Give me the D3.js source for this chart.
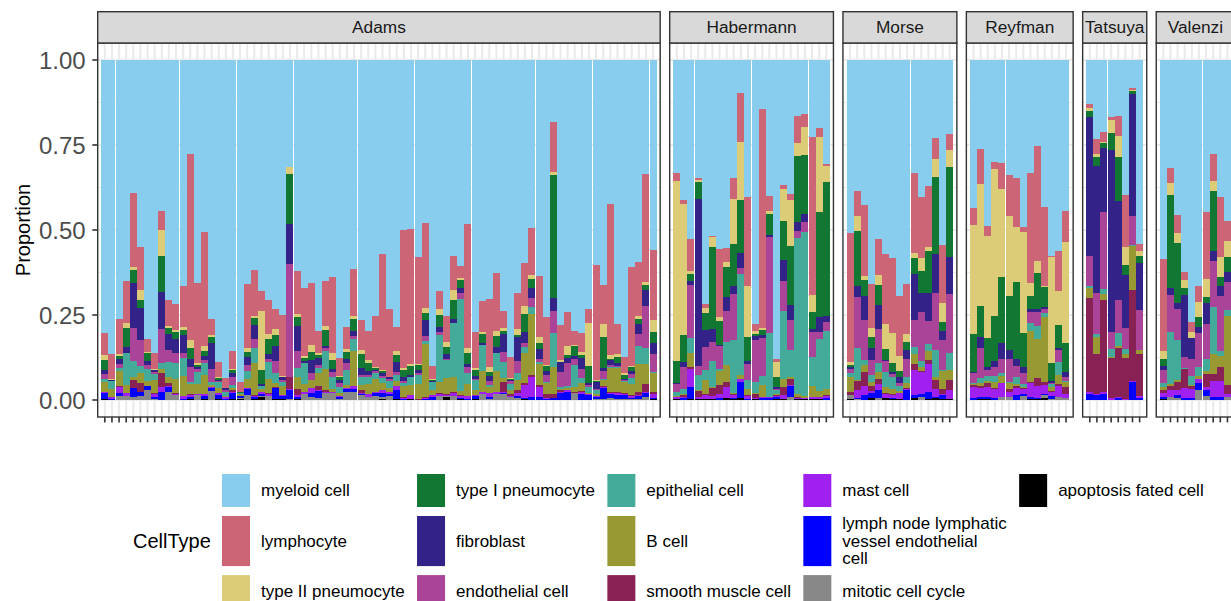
<!DOCTYPE html>
<html>
<head>
<meta charset="utf-8">
<script src="https://cdn.jsdelivr.net/npm/d3@7"></script>
<style>
  body { margin: 0; background: #ffffff; }
  svg { display: block; }
  text { font-family: "Liberation Sans", Arial, Helvetica, sans-serif; }
</style>
</head>
<body>
<svg id="chart" width="1231" height="601"></svg>
<script>
// Cell types in legend order (first level is drawn on top of each stack)
const cellTypes = [
  "myeloid cell", "lymphocyte", "type II pneumocyte", "type I pneumocyte",
  "fibroblast", "endothelial cell", "epithelial cell", "B cell",
  "smooth muscle cell", "mast cell", "lymph node lymphatic vessel endothelial cell",
  "mitotic cell cycle", "apoptosis fated cell"
];
const cellColors = [
  "#88CCEE", "#CC6677", "#DDCC77", "#117733",
  "#332288", "#AA4499", "#44AA99", "#999933",
  "#882255", "#A020F0", "#0000FF",
  "#888888", "#000000"
];
const studies = ["Adams", "Habermann", "Morse", "Reyfman", "Tatsuya", "Valenzi"];

// Per-sample proportions, one row per sample, columns in cellTypes order
const adams = [
  [0.802,0.066,0.014,0.030,0.012,0.015,0.007,0.029,0,0.003,0.020,0,0.002],
  [0.866,0.072,0.004,0,0.003,0,0.023,0.024,0,0.004,0.004,0,0],
  [0.763,0.103,0.005,0.008,0.014,0.013,0.008,0.046,0.002,0.016,0.010,0.012,0],
  [0.649,0.124,0.014,0.058,0.018,0,0.093,0.023,0,0.009,0,0.012,0],
  [0.391,0.219,0.008,0.038,0.132,0.097,0.048,0.008,0.025,0,0.026,0.008,0],
  [0.550,0.126,0.030,0.024,0.094,0.076,0.022,0.027,0.026,0,0.013,0.012,0],
  [0.821,0.037,0.005,0.022,0.013,0.010,0.037,0.015,0,0,0.010,0.030,0],
  [0.863,0.047,0.003,0,0.005,0.005,0.017,0.040,0.003,0.008,0.007,0.002,0],
  [0.444,0.056,0.076,0.105,0.109,0.100,0.020,0.010,0.041,0.014,0.025,0,0],
  [0.705,0.078,0.005,0.017,0.049,0.035,0.043,0.018,0.010,0.003,0.012,0.025,0],
  [0.719,0.074,0.008,0.020,0.041,0.029,0.047,0.041,0.004,0.002,0,0.015,0],
  [0.665,0.120,0.010,0.013,0.054,0.015,0.052,0.059,0,0.008,0.004,0,0],
  [0.277,0.546,0.024,0.032,0.023,0.046,0.005,0.029,0.003,0.005,0.008,0,0.002],
  [0.656,0.236,0.005,0.005,0.008,0.007,0.035,0.030,0,0.003,0,0.015,0],
  [0.505,0.337,0.013,0.017,0.010,0.008,0.036,0.056,0,0.006,0.010,0,0.002],
  [0.761,0.048,0.007,0.016,0.077,0.037,0.010,0.005,0,0.005,0.007,0.027,0],
  [0.889,0.043,0.003,0.007,0.003,0.002,0.018,0.015,0,0.005,0.013,0,0.002],
  [0.936,0.028,0,0,0.006,0.007,0.010,0.005,0,0.006,0.002,0,0],
  [0.857,0.051,0.005,0.008,0.010,0.026,0.007,0.008,0.005,0.003,0.017,0,0.003],
  [0.947,0.030,0,0.002,0,0,0.004,0.004,0,0.002,0.006,0.003,0.002],
  [0.658,0.189,0.013,0.014,0.024,0.018,0.023,0.026,0,0.003,0.018,0.014,0],
  [0.617,0.135,0.006,0.021,0.042,0.026,0.044,0.093,0.005,0.003,0.006,0,0.002],
  [0.678,0.059,0.174,0.042,0.005,0,0.010,0.007,0.002,0.005,0.006,0.004,0.008],
  [0.705,0.101,0.015,0.043,0.016,0.007,0.052,0.039,0.004,0.006,0,0.012,0],
  [0.733,0.059,0.018,0.032,0.043,0.035,0.029,0.012,0.003,0,0.033,0,0.003],
  [0.749,0.181,0.002,0,0.008,0.008,0.010,0.027,0,0.003,0.010,0,0.002],
  [0.316,0,0.019,0.147,0.118,0.333,0,0,0.036,0.002,0.026,0.003,0],
  [0.622,0.126,0.008,0.026,0.074,0.050,0.025,0.038,0.015,0.006,0.007,0,0.003],
  [0.672,0.199,0.004,0.010,0.006,0,0.063,0.023,0,0.005,0,0.018,0],
  [0.655,0.182,0.022,0.022,0.039,0.020,0,0.025,0,0.013,0.014,0.008,0],
  [0.796,0.066,0.006,0.008,0.020,0.010,0.015,0.038,0.012,0.003,0.020,0.006,0],
  [0.649,0.132,0.012,0.047,0.007,0.008,0.053,0.062,0.006,0.004,0,0.020,0],
  [0.637,0.226,0.020,0.025,0.011,0.014,0.035,0.007,0,0.005,0,0.020,0],
  [0.877,0.052,0.004,0.008,0.010,0.012,0.015,0.010,0,0.004,0.005,0.003,0],
  [0.786,0.065,0.008,0.020,0.012,0.020,0.045,0.008,0,0.005,0.006,0.025,0],
  [0.615,0.138,0.010,0.034,0.015,0.009,0.035,0.103,0,0.010,0.006,0.025,0],
  [0.764,0.088,0.012,0.042,0.020,0.007,0.023,0.015,0.007,0.003,0.004,0.015,0],
  [0.798,0.085,0.008,0.023,0.012,0.007,0.020,0.029,0,0.008,0,0.010,0],
  [0.754,0.149,0.003,0.005,0.005,0.005,0.018,0.036,0,0.005,0.008,0.012,0],
  [0.571,0.341,0.004,0.005,0.008,0.007,0.013,0.022,0,0.008,0.013,0.005,0.003],
  [0.731,0.200,0,0,0.008,0.005,0.020,0.012,0,0.006,0.006,0.012,0],
  [0.785,0.071,0.012,0.020,0.029,0.010,0.017,0.015,0,0.011,0.028,0,0.002],
  [0.499,0.407,0.005,0.021,0.013,0.005,0.008,0.033,0.002,0.005,0.002,0,0],
  [0.496,0.397,0.006,0.026,0.008,0,0.023,0.030,0,0.012,0,0,0.002],
  [0.580,0.315,0.003,0.013,0.010,0.004,0.027,0.044,0.004,0,0,0,0],
  [0.479,0.249,0.015,0.022,0.046,0.015,0.010,0.155,0.003,0.004,0.002,0,0],
  [0.900,0.039,0.002,0.003,0.002,0,0.026,0.012,0,0.006,0.010,0,0],
  [0.678,0.053,0.020,0.034,0.016,0.009,0.138,0.030,0.004,0.006,0,0.012,0],
  [0.754,0.075,0.015,0.020,0.015,0.003,0.053,0.047,0.003,0.003,0,0.004,0.008],
  [0.577,0.100,0.028,0.056,0.012,0,0.160,0.042,0.005,0.008,0,0.012,0],
  [0.607,0.033,0.006,0.026,0.013,0.019,0.270,0.012,0.002,0.006,0.004,0,0.002],
  [0.482,0.366,0.015,0.031,0.008,0.018,0.033,0.036,0,0.007,0.004,0,0],
  [0.799,0.108,0.005,0.018,0.008,0.003,0.030,0.015,0,0.003,0.009,0,0.002],
  [0.709,0.090,0.008,0.026,0.005,0,0.078,0.059,0,0.007,0,0.018,0],
  [0.702,0.202,0.013,0.012,0.016,0.012,0.005,0.018,0,0.010,0.007,0.003,0],
  [0.627,0.171,0.015,0.031,0.018,0,0.054,0.059,0,0.007,0,0.018,0],
  [0.738,0.051,0.007,0.010,0.054,0.029,0.047,0.012,0.027,0.003,0.004,0.018,0],
  [0.874,0.060,0.004,0.003,0.003,0.008,0.020,0.010,0.005,0.003,0,0.010,0],
  [0.685,0.106,0.018,0.007,0.070,0.034,0.020,0.030,0.008,0.010,0.007,0.005,0],
  [0.596,0.127,0.024,0.052,0.034,0.012,0.018,0.088,0.005,0.039,0.003,0,0.002],
  [0.494,0.138,0.012,0.027,0.030,0.025,0.020,0.180,0.007,0.057,0.010,0,0],
  [0.635,0.179,0.019,0.018,0.027,0.010,0.005,0.064,0.005,0.030,0.008,0,0],
  [0.756,0.141,0.004,0.014,0.011,0.020,0.005,0.030,0.012,0.004,0.003,0,0],
  [0.181,0.147,0.009,0.362,0.039,0.066,0.100,0.077,0.012,0.002,0.005,0,0],
  [0.779,0.103,0.005,0.002,0.028,0.045,0.006,0.004,0.003,0.003,0.022,0,0],
  [0.741,0.100,0.026,0.008,0.016,0.069,0.005,0.005,0,0.005,0.025,0,0],
  [0.797,0.041,0.002,0.030,0.008,0.020,0.065,0.012,0.003,0.002,0,0.020,0],
  [0.803,0.057,0.007,0.010,0.032,0.025,0.017,0.022,0.003,0.007,0.017,0,0],
  [0.732,0.041,0.128,0.049,0.005,0.008,0.015,0.005,0,0.002,0.015,0,0],
  [0.603,0.337,0.003,0.003,0.022,0.004,0.010,0.005,0,0.003,0.008,0.002,0],
  [0.661,0.114,0.041,0.090,0.010,0.022,0.002,0.020,0.002,0.002,0.034,0.002,0],
  [0.424,0.444,0.012,0.002,0.015,0.007,0.003,0.068,0.003,0.003,0.013,0.006,0],
  [0.776,0.088,0.010,0.016,0.010,0.003,0.002,0.072,0.002,0.005,0.012,0.004,0],
  [0.874,0.048,0.004,0.012,0.004,0.002,0.004,0.030,0.003,0.004,0.012,0.003,0],
  [0.609,0.290,0.005,0.010,0.010,0.010,0.020,0.030,0.005,0.005,0.004,0.002,0],
  [0.594,0.159,0.010,0.014,0.029,0.034,0.054,0.081,0.010,0.003,0.008,0.004,0],
  [0.335,0.317,0.010,0.014,0.048,0.124,0.046,0.059,0.022,0.005,0.010,0.010,0],
  [0.559,0.206,0.034,0.032,0.034,0.052,0.005,0.053,0.007,0.013,0.003,0,0.002]
];
const habermann = [
  [0.331,0.025,0.528,0.065,0.003,0.025,0.010,0.003,0.002,0.004,0.002,0,0.002],
  [0.412,0.012,0.385,0.078,0.015,0.067,0.014,0.003,0.005,0.002,0.007,0,0],
  [0.525,0.095,0.009,0.020,0.013,0.157,0.044,0.041,0.005,0.052,0.037,0,0.002],
  [0.348,0.005,0.005,0.051,0.491,0.026,0.046,0.002,0.018,0.006,0,0,0.002],
  [0.718,0.011,0.015,0.049,0.051,0.069,0.027,0.041,0.005,0.010,0,0,0.004],
  [0.518,0.004,0.029,0.241,0.036,0.056,0.078,0.002,0.023,0.011,0,0,0.002],
  [0.555,0.200,0.012,0.072,0.002,0.069,0.005,0.041,0.027,0.010,0.007,0,0],
  [0.552,0.041,0.017,0.088,0.039,0.091,0.069,0.049,0.017,0.032,0,0,0.005],
  [0.346,0.064,0.131,0.125,0.022,0.135,0.155,0.005,0.003,0.008,0.004,0,0.002],
  [0.096,0.144,0.172,0.155,0.046,0.017,0.297,0.010,0.002,0.008,0.046,0,0.007],
  [0.402,0.263,0.149,0.071,0.010,0.045,0.029,0.017,0.003,0.008,0.003,0,0],
  [0.776,0.021,0.009,0.006,0.012,0.123,0.032,0.002,0.012,0.005,0,0,0.002],
  [0.144,0.645,0.005,0.015,0.010,0.111,0.026,0.034,0.002,0.003,0.005,0,0],
  [0.400,0.043,0.010,0.062,0.007,0.280,0.188,0.002,0,0.002,0.006,0,0],
  [0.879,0.008,0.044,0.031,0.005,0.003,0.013,0.003,0.002,0.003,0.007,0,0.002],
  [0.368,0.010,0.095,0.114,0.063,0.088,0.199,0.025,0.024,0.010,0,0,0.004],
  [0.393,0.020,0.135,0.172,0.044,0.090,0.078,0.006,0.017,0.003,0.032,0.010,0],
  [0.165,0.080,0.036,0.196,0.026,0.020,0.460,0.008,0.002,0.004,0,0,0.003],
  [0.159,0.037,0.083,0.174,0.023,0.029,0.483,0.005,0,0.004,0,0,0.003],
  [0.225,0.466,0.049,0.052,0.007,0.075,0.086,0.030,0.002,0.005,0,0,0.003],
  [0.201,0.025,0.221,0.309,0.044,0.020,0.154,0.016,0.002,0.005,0,0,0.003],
  [0.306,0.006,0.046,0.395,0.017,0.026,0.173,0.017,0.002,0.007,0.005,0,0]
];
const morse = [
  [0.508,0.381,0.007,0.007,0.006,0.012,0.012,0.042,0.010,0,0,0.013,0.002],
  [0.385,0.074,0.044,0.162,0.031,0.152,0.093,0.003,0.027,0.022,0.005,0.002,0],
  [0.426,0.209,0.012,0.047,0.071,0.116,0.017,0.020,0.042,0.026,0.013,0,0.001],
  [0.659,0.130,0.026,0.032,0.034,0.044,0.023,0.010,0.016,0.004,0.017,0,0.005],
  [0.525,0.108,0.029,0.059,0.069,0.101,0.026,0.020,0.017,0.018,0.022,0.006,0],
  [0.571,0.206,0.072,0.032,0.003,0.033,0.046,0.016,0.002,0.014,0,0,0.005],
  [0.583,0.219,0.088,0.029,0.004,0.010,0.035,0.014,0.002,0.011,0.003,0,0.002],
  [0.694,0.176,0.046,0.015,0.018,0.010,0.014,0.005,0.002,0.016,0.002,0,0.002],
  [0.659,0.147,0.023,0.025,0.024,0.054,0.018,0.014,0.003,0.005,0.027,0,0.001],
  [0.331,0.237,0.015,0.046,0.135,0.080,0.020,0.029,0.018,0.074,0.010,0,0.005],
  [0.402,0.181,0.039,0.062,0.056,0.144,0.020,0.010,0.003,0.064,0.010,0.009,0],
  [0.370,0.181,0.010,0.124,0.082,0.067,0.022,0.025,0.014,0.081,0.022,0,0.002],
  [0.230,0.062,0.053,0.225,0.114,0.169,0.078,0.010,0.027,0.022,0.005,0,0.005],
  [0.544,0.170,0.056,0.026,0.027,0.088,0.003,0.055,0.013,0.003,0.013,0,0.002],
  [0.218,0.047,0.049,0.265,0.110,0.173,0.051,0.027,0.031,0.025,0,0,0.004]
];
const reyfman = [
  [0.434,0.051,0.321,0.111,0.005,0.027,0.004,0.003,0.007,0.030,0.006,0,0.001],
  [0.262,0.103,0.359,0.092,0.032,0.088,0.013,0.010,0.007,0.025,0.006,0,0.003],
  [0.488,0.031,0.299,0.085,0.008,0.018,0.014,0.006,0.014,0.027,0.006,0,0.004],
  [0.299,0.023,0.431,0.131,0.018,0.027,0.017,0.020,0.002,0.025,0.006,0,0.001],
  [0.304,0.076,0.257,0.194,0.049,0.041,0.008,0.020,0.002,0.041,0,0.008,0],
  [0.339,0.121,0.235,0.159,0.025,0.069,0.002,0.017,0.010,0.013,0,0.010,0],
  [0.346,0.144,0.162,0.228,0.020,0.031,0.022,0.006,0.007,0.020,0.013,0,0.001],
  [0.490,0.015,0.299,0.100,0.016,0.033,0.008,0.003,0.004,0.013,0.007,0.012,0],
  [0.331,0.324,0.040,0.037,0.010,0.031,0.025,0.150,0.003,0.040,0.006,0,0.003],
  [0.253,0.338,0.036,0.106,0.008,0.040,0.040,0.113,0.025,0.034,0.004,0,0.003],
  [0.431,0.235,0.003,0.057,0.005,0.012,0.013,0.190,0.010,0.025,0.004,0.010,0.005],
  [0.576,0.004,0.310,0.053,0.006,0.003,0.010,0.012,0.003,0.012,0.007,0.004,0],
  [0.561,0.118,0.101,0.066,0.008,0.034,0.039,0.025,0.008,0.030,0,0.010,0],
  [0.443,0.091,0.297,0.088,0.012,0.012,0.004,0.016,0.020,0.010,0,0.007,0]
];
const tatsuya = [
  [0.129,0.013,0.008,0.019,0.408,0.088,0.007,0.029,0.275,0.007,0.017,0,0],
  [0.232,0.044,0.008,0.027,0.375,0.120,0.008,0.051,0.118,0.002,0.015,0,0],
  [0.211,0.029,0.003,0.015,0.188,0.228,0.014,0.018,0.270,0.005,0.019,0,0],
  [0.169,0.008,0.039,0.049,0.534,0.052,0.022,0.002,0.118,0.007,0,0,0],
  [0.165,0.059,0.061,0.129,0.292,0.096,0.039,0.005,0.144,0.005,0.005,0,0],
  [0.397,0.152,0.054,0.029,0.157,0.062,0.014,0.010,0.123,0.002,0,0,0],
  [0.081,0.006,0.005,0.007,0.361,0.085,0.003,0.128,0.267,0.003,0.054,0,0],
  [0.541,0.020,0.016,0.020,0.137,0.118,0.002,0.012,0.123,0.004,0.007,0,0]
];
const valenzi = [
  [0.586,0.269,0.023,0.022,0.012,0.037,0.014,0.008,0.008,0.012,0.007,0,0.002],
  [0.317,0.046,0.034,0.275,0.020,0.108,0.152,0.008,0.012,0.018,0,0.010,0],
  [0.456,0.052,0.029,0.178,0.018,0.090,0.118,0.005,0.025,0.015,0.007,0.007,0],
  [0.623,0.023,0.026,0.020,0.181,0.033,0.002,0.002,0.055,0.029,0.006,0,0],
  [0.770,0.029,0.020,0,0.059,0.052,0.026,0.003,0.010,0.025,0.006,0,0],
  [0.665,0.046,0.044,0.031,0.016,0.100,0.027,0.010,0,0.010,0.022,0.029,0],
  [0.446,0.199,0.051,0.018,0.061,0.103,0.036,0.010,0.039,0.008,0.018,0.011,0],
  [0.275,0.081,0.029,0.176,0.031,0.133,0.139,0.059,0.020,0.047,0.010,0,0],
  [0.402,0.178,0.059,0.025,0.029,0.162,0.015,0.032,0.043,0.045,0.010,0,0],
  [0.474,0.057,0.047,0.046,0.029,0.083,0.018,0.203,0.025,0.008,0,0.010,0]
];
const studySamples = [adams, habermann, morse, reyfman, tatsuya, valenzi];

const yTickValues = [0, 0.25, 0.5, 0.75, 1];
const yTickLabels = ["0.00", "0.25", "0.50", "0.75", "1.00"];
const yMinorValues = [0.125, 0.375, 0.625, 0.875];

// Legend labels that wrap onto several lines
const legendLines = {
  "lymph node lymphatic vessel endothelial cell": ["lymph node lymphatic", "vessel endothelial", "cell"]
};

// ---- layout ----
const svg = d3.select("#chart");
const unit = 7.12;          // width of one sample slot
const panelGap = 9.5;
const plotLeft = 97.7;
const stripTop = 11.7;
const y = d3.scaleLinear().domain([0, 1]).range([400, 60]);
const panelTop = y(1.05), panelBottom = y(-0.05);
const borderColor = "#333333";
const gridColor = "#EBEBEB";

const color = d3.scaleOrdinal().domain(cellTypes).range(cellColors);
const stack = d3.stack().keys(cellTypes.slice().reverse());

let left = plotLeft;
studies.forEach((study, si) => {
  const rows = studySamples[si].map((vals, i) => {
    const o = { sample: study + "_" + (i + 1) };
    cellTypes.forEach((c, k) => { o[c] = vals[k]; });
    return o;
  });
  const n = rows.length;
  const width = (n + 1) * unit;
  const x = d3.scaleBand()
    .domain(rows.map(d => d.sample))
    .range([left, left + width])
    .paddingInner(0)
    .paddingOuter(0.5);

  const g = svg.append("g");

  // panel background + grid
  g.append("rect")
    .attr("x", left).attr("y", panelTop)
    .attr("width", width).attr("height", panelBottom - panelTop)
    .attr("fill", "#ffffff");
  g.selectAll(".ygrid-minor").data(yMinorValues).join("line")
    .attr("x1", left).attr("x2", left + width)
    .attr("y1", d => y(d)).attr("y2", d => y(d))
    .attr("stroke", gridColor).attr("stroke-width", 1.1);
  g.selectAll(".ygrid").data(yTickValues).join("line")
    .attr("x1", left).attr("x2", left + width)
    .attr("y1", d => y(d)).attr("y2", d => y(d))
    .attr("stroke", gridColor).attr("stroke-width", 2.1);
  g.selectAll(".xgrid").data(rows).join("line")
    .attr("x1", d => x(d.sample) + x.bandwidth() / 2)
    .attr("x2", d => x(d.sample) + x.bandwidth() / 2)
    .attr("y1", panelTop).attr("y2", panelBottom)
    .attr("stroke", gridColor).attr("stroke-width", 2.1);

  // stacked bars
  const series = stack(rows);
  const bw = Math.floor(x.bandwidth());
  g.selectAll(".layer").data(series).join("g")
    .attr("fill", s => color(s.key))
    .attr("shape-rendering", "crispEdges")
    .selectAll("rect").data(s => s).join("rect")
      .attr("x", d => Math.round(x(d.data.sample)))
      .attr("width", bw)
      .attr("y", d => y(d[1]))
      .attr("height", d => Math.max(0, y(d[0]) - y(d[1])));

  // panel border
  g.append("rect")
    .attr("x", left).attr("y", panelTop)
    .attr("width", width).attr("height", panelBottom - panelTop)
    .attr("fill", "none").attr("stroke", borderColor).attr("stroke-width", 1.4);

  // strip
  g.append("rect")
    .attr("x", left).attr("y", stripTop)
    .attr("width", width).attr("height", panelTop - stripTop)
    .attr("fill", "#D9D9D9").attr("stroke", borderColor).attr("stroke-width", 1.4);
  g.append("text")
    .attr("x", left + width / 2).attr("y", (stripTop + panelTop) / 2)
    .attr("text-anchor", "middle").attr("dominant-baseline", "central")
    .attr("font-size", 17.3).attr("fill", "#1A1A1A")
    .text(study);

  // x ticks (no labels)
  g.selectAll(".xtick").data(rows).join("line")
    .attr("x1", d => x(d.sample) + x.bandwidth() / 2)
    .attr("x2", d => x(d.sample) + x.bandwidth() / 2)
    .attr("y1", panelBottom).attr("y2", panelBottom + 5.4)
    .attr("stroke", borderColor).attr("stroke-width", 1.6);

  // y axis on the first panel only
  if (si === 0) {
    const ya = svg.append("g");
    ya.selectAll("line").data(yTickValues).join("line")
      .attr("x1", left - 5.4).attr("x2", left)
      .attr("y1", d => y(d)).attr("y2", d => y(d))
      .attr("stroke", borderColor).attr("stroke-width", 1.6);
    ya.selectAll("text").data(yTickValues).join("text")
      .attr("x", left - 12).attr("y", d => y(d))
      .attr("text-anchor", "end").attr("dominant-baseline", "central")
      .attr("font-size", 24).attr("fill", "#4D4D4D")
      .text((d, i) => yTickLabels[i]);
  }

  left += width + panelGap;
});

// y axis title
svg.append("text")
  .attr("transform", `translate(23,${y(0.5)}) rotate(-90)`)
  .attr("text-anchor", "middle").attr("dominant-baseline", "central")
  .attr("font-size", 20).attr("fill", "#000000")
  .text("Proportion");

// ---- legend: 3 rows, filled column by column ----
const legend = svg.append("g");
const nRows = 3;
const keyW = 28, lineH = 17.5, rowGap = 9;
const legendTop = 474, legendKeyX0 = 222;
const items = cellTypes.map((c, i) => ({
  name: c, col: Math.floor(i / nRows), row: i % nRows,
  lines: legendLines[c] || [c]
}));
const rowHeights = d3.range(nRows).map(r =>
  d3.max(items.filter(d => d.row === r), d => Math.max(33, d.lines.length * 16.7)));
const rowTops = [];
rowHeights.reduce((acc, h, r) => { rowTops[r] = acc; return acc + h + rowGap; }, legendTop);

legend.append("text")
  .attr("x", 133).attr("y", rowTops[1] + rowHeights[1] / 2)
  .attr("dominant-baseline", "central")
  .attr("font-size", 20).attr("fill", "#000000")
  .text("CellType");

const nCols = d3.max(items, d => d.col) + 1;
let keyX = legendKeyX0;
for (let c = 0; c < nCols; c++) {
  const colItems = items.filter(d => d.col === c);
  let maxW = 0;
  colItems.forEach(d => {
    const top = rowTops[d.row], h = rowHeights[d.row];
    legend.append("rect")
      .attr("x", keyX).attr("y", top)
      .attr("width", keyW).attr("height", h)
      .attr("fill", color(d.name));
    const t = legend.append("text")
      .attr("font-size", 17).attr("fill", "#000000");
    const y0 = top + h / 2 - (d.lines.length - 1) * lineH / 2;
    d.lines.forEach((ln, li) => {
      t.append("tspan")
        .attr("x", keyX + keyW + 11)
        .attr("y", y0 + li * lineH)
        .attr("dominant-baseline", "central")
        .text(ln);
    });
    maxW = Math.max(maxW, d3.max(t.selectAll("tspan").nodes(), n => n.getComputedTextLength()));
  });
  keyX = keyX + keyW + 11 + maxW + 12.4;
}
</script>
</body>
</html>
